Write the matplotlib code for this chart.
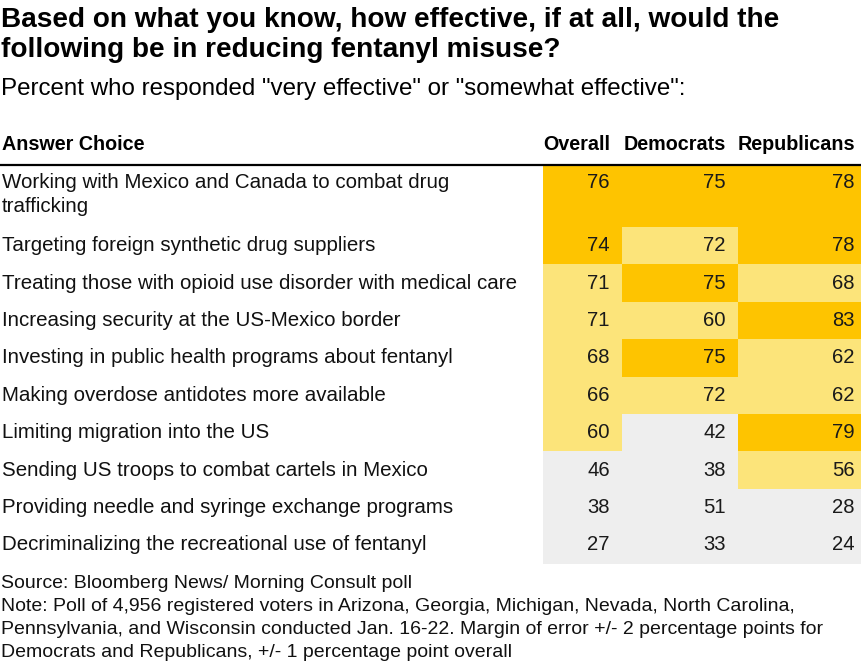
import matplotlib
matplotlib.use("Agg")
import matplotlib.pyplot as plt
from matplotlib.patches import Rectangle

# data
answers = [
    "Working with Mexico and Canada to combat drug\ntrafficking",
    "Targeting foreign synthetic drug suppliers",
    "Treating those with opioid use disorder with medical care",
    "Increasing security at the US-Mexico border",
    "Investing in public health programs about fentanyl",
    "Making overdose antidotes more available",
    "Limiting migration into the US",
    "Sending US troops to combat cartels in Mexico",
    "Providing needle and syringe exchange programs",
    "Decriminalizing the recreational use of fentanyl",
]
columns = ["Overall", "Democrats", "Republicans"]
overall = [76, 74, 71, 71, 68, 66, 60, 46, 38, 27]
democrats = [75, 72, 75, 60, 75, 72, 42, 38, 51, 33]
republicans = [78, 78, 68, 83, 62, 62, 79, 56, 28, 24]

title = ["Based on what you know, how effective, if at all, would the",
         "following be in reducing fentanyl misuse?"]
subtitle = "Percent who responded \"very effective\" or \"somewhat effective\":"
footer = ["Source: Bloomberg News/ Morning Consult poll",
          "Note: Poll of 4,956 registered voters in Arizona, Georgia, Michigan, Nevada, North Carolina,",
          "Pennsylvania, and Wisconsin conducted Jan. 16-22. Margin of error +/- 2 percentage points for",
          "Democrats and Republicans, +/- 1 percentage point overall"]

DARK = "#fec400"
LIGHT = "#fce47a"
GRAY = "#eeeeee"


def cell_color(v):
    if v >= 73:
        return DARK
    if v >= 55:
        return LIGHT
    return GRAY


W, H = 862, 662
fig = plt.figure(figsize=(W / 100, H / 100), dpi=100)
ax = fig.add_axes([0, 0, 1, 1])
ax.set_xlim(0, W)
ax.set_ylim(H, 0)
ax.axis("off")

font = ["Liberation Sans", "DejaVu Sans"]

# title + subtitle
for k, line in enumerate(title):
    ax.text(1, 20 + k * 30, line, fontsize=20.2, fontweight="bold",
            family=font, va="center", ha="left")
ax.text(1, 89, subtitle, fontsize=17.4, family=font, va="center", ha="left")

# header
col_left = [543, 622, 738]
col_right = [622, 738, 862]
text_right = [610, 726, 855]
ax.text(2, 144, "Answer Choice", fontsize=14.2, fontweight="bold", family=font,
        va="center", ha="left")
for c, name in enumerate(columns):
    ax.text(text_right[c], 144, name, fontsize=14.2, fontweight="bold",
            family=font, va="center", ha="right")
ax.plot([0, W], [165, 165], color="black", lw=1.6, solid_capstyle="butt")

# rows
row_h = 37.4
row_top = [165] + [227 + (i - 1) * row_h for i in range(1, len(answers))]
row_bot = row_top[1:] + [227 + (len(answers) - 1) * row_h]

values = [overall, democrats, republicans]
for i, label in enumerate(answers):
    top, bot = row_top[i], row_bot[i]
    ty = 183 if i == 0 else (top + bot) / 2
    for k, line in enumerate(label.split("\n")):
        ax.text(2, ty + k * 24, line, fontsize=14.8, family=font,
                va="center", ha="left", color="#111111")
    for c in range(3):
        v = values[c][i]
        ax.add_patch(Rectangle((col_left[c], top), col_right[c] - col_left[c],
                               bot - top, facecolor=cell_color(v), lw=0))
        ax.text(text_right[c], ty, str(v), fontsize=14.6, family=font,
                va="center", ha="right", color="#1a1a1a")

# footer
for k, line in enumerate(footer):
    ax.text(1, 583 + k * 23.2, line, fontsize=14, family=font,
            va="center", ha="left", color="#111111")

fig.savefig("out.png", dpi=100, facecolor="white")
